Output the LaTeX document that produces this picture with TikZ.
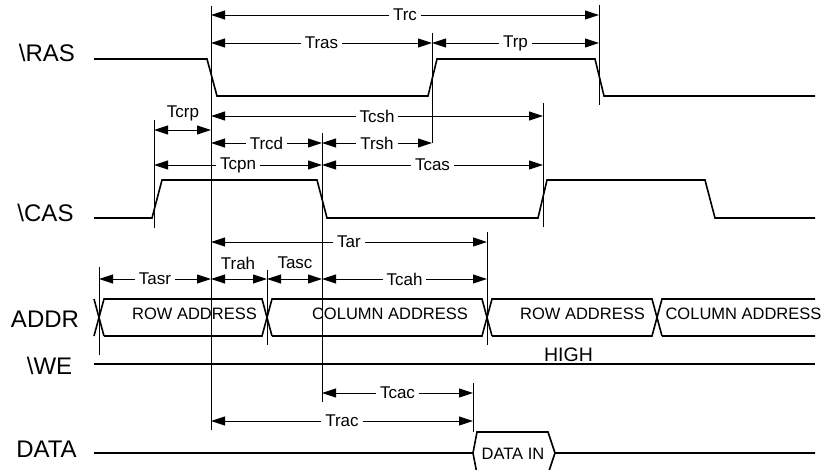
\documentclass[tikz,border=0pt]{standalone}
\usepackage{fontspec}
\setmainfont{Liberation Sans}
\usetikzlibrary{arrows.meta}
\begin{document}
\begin{tikzpicture}[x=1pt,y=-1pt,
  sig/.style={line width=1.6pt, line join=miter},
  vline/.style={line width=1pt},
  dim/.style={line width=0.9pt, {Triangle[length=14pt 0 0,width=9pt 0 0]}-{Triangle[length=14pt 0 0,width=9pt 0 0]}},
  dimlbl/.style={fill=white, inner xsep=4pt, inner ysep=1pt, font=\fontsize{17}{18}\selectfont},
  toplbl/.style={inner sep=0pt, font=\fontsize{17}{18}\selectfont},
  siglbl/.style={inner sep=0pt, font=\fontsize{24}{26}\selectfont},
  buslbl/.style={inner sep=0pt, font=\fontsize{16.5}{18}\selectfont}]
\useasboundingbox (0,0) rectangle (835,470);

% signal names
\node[siglbl] (ras) at (47,52.5) {\textbackslash RAS};
\node[siglbl] (cas) at (45.5,212.5) {\textbackslash CAS};
\node[siglbl] (addr) at (45,319) {ADDR};
\node[siglbl] (we) at (49.5,365.5) {\textbackslash WE};
\node[siglbl] (data) at (46.5,449) {DATA};

% RAS
\draw[sig] (94,59) -- (207,59) -- (217,96) -- (428,96) -- (437,59) -- (595,59) -- (604,96) -- (815,96);
% CAS
\draw[sig] (94,218) -- (152,218) -- (162,180) -- (317,180) -- (327,218) -- (538,218) -- (547,180) -- (705,180) -- (715,218) -- (815,218);
% ADDR bus
\draw[sig] (94,299) -- (104,336) (94,336) -- (104,299)
  -- (262,299) -- (272,336) (104,336) -- (262,336) -- (272,299)
  -- (482,299) -- (492,336) (272,336) -- (482,336) -- (492,299)
  -- (652,299) -- (662,336) (492,336) -- (652,336) -- (662,299)
  -- (815,299) (662,336) -- (815,336);
\node[buslbl] (row1) at (194.5,314) {ROW ADDRESS};
\node[buslbl] (col1) at (390,314) {COLUMN ADDRESS};
\node[buslbl] (row2) at (582.5,314) {ROW ADDRESS};
\node[buslbl] (col2) at (743.5,314) {COLUMN ADDRESS};
% WE
\draw[sig] (94,364) -- (815,364);
\node[inner sep=0pt, font=\fontsize{19.5}{21}\selectfont] (high) at (568.5,355) {HIGH};
% DATA
\draw[sig] (94,453) -- (473,453) -- (477,432) -- (548,432) -- (555,453) -- (815,453)
  (473,453) -- (477,474) -- (548,474) -- (555,453);
\node[buslbl] (din) at (513,453.5) {DATA IN};

% vertical reference lines
\draw[vline] (211,6) -- (211,430);
\draw[vline] (599,5) -- (599,105);
\draw[vline] (432,33) -- (432,143);
\draw[vline] (543,103) -- (543,227);
\draw[vline] (154,120) -- (154,228);
\draw[vline] (322,133) -- (322,402);
\draw[vline] (487,232) -- (487,345);
\draw[vline] (99,267) -- (99,355);
\draw[vline] (267,270) -- (267,345);
\draw[vline] (473,383) -- (473,432);

% timing dimensions
\draw[dim] (211,15) -- node[dimlbl] (trc) {Trc} (599,15);
\draw[dim] (211,43) -- node[dimlbl] (tras) {Tras} (432,43);
\draw[dim] (432,43) -- node[dimlbl] (trp) {Trp} (599,43);
\draw[dim] (211,116) -- node[dimlbl] (tcsh) {Tcsh} (543,116);
\draw[dim] (154,130) -- (211,130);
\node[toplbl] (tcrp) at (183,113) {Tcrp};
\draw[dim] (211,143) -- node[dimlbl] (trcd) {Trcd} (322,143);
\draw[dim] (322,143) -- node[dimlbl] (trsh) {Trsh} (432,143);
\draw[dim] (154,165) -- node[dimlbl] (tcpn) {Tcpn} (322,165);
\draw[dim] (322,165) -- node[dimlbl] (tcas) {Tcas} (543,165);
\draw[dim] (211,242) -- node[dimlbl] (tar) {Tar} (487,242);
\draw[dim] (99,279) -- node[dimlbl] (tasr) {Tasr} (211,279);
\draw[dim] (211,279) -- (267,279);
\draw[dim] (267,279) -- (322,279);
\node[toplbl] (trah) at (238,263) {Trah};
\node[toplbl] (tasc) at (295,263) {Tasc};
\draw[dim] (322,279) -- node[dimlbl] (tcah) {Tcah} (487,279);
\draw[dim] (322,393) -- node[dimlbl] (tcac) {Tcac} (473,393);
\draw[dim] (211,421) -- node[dimlbl] (trac) {Trac} (473,421);
\end{tikzpicture}
\end{document}
